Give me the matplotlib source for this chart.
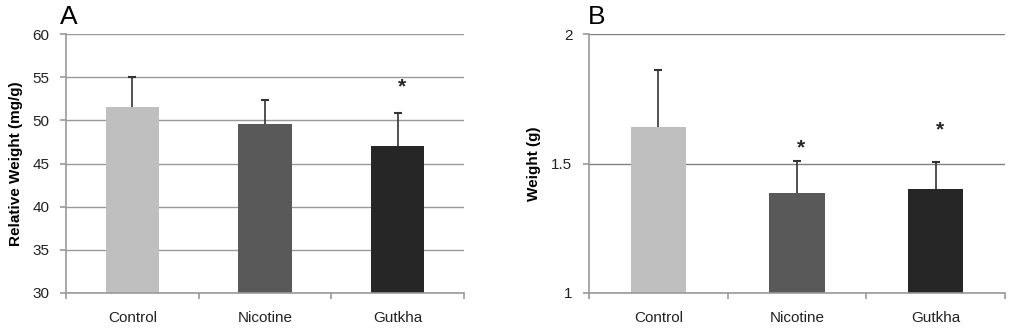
import matplotlib
matplotlib.use("Agg")
import matplotlib.pyplot as plt
import numpy as np

plt.rcParams['font.family'] = ['Liberation Sans', 'DejaVu Sans']

categories = ["Control", "Nicotine", "Gutkha"]
colors = ["#bfbfbf", "#595959", "#262626"]

a_values = [51.5, 49.6, 47.0]
a_errors = [3.5, 2.7, 3.8]
a_star = [None, None, 53.9]

b_values = [1.64, 1.385, 1.40]
b_errors = [0.22, 0.126, 0.106]
b_star = [None, 1.56, 1.63]

fig = plt.figure(figsize=(10.24, 3.35), dpi=100)
W, H = 1024, 335

def make_ax(left, right, top, bottom):
    return fig.add_axes([left / W, 1 - bottom / H, (right - left) / W, (bottom - top) / H])

axA = make_ax(66, 464, 34, 293)
axB = make_ax(589, 1005, 34, 293)

def draw(ax, vals, errs, stars, ylim, yticks, yticklabels, ylabel, label, label_x, grid_color):
    x = np.arange(len(categories))
    vals = np.array(vals)
    errs = np.array(errs)
    ax.set_xlim(-0.5, len(categories) - 0.5)
    ax.set_ylim(*ylim)
    ax.set_yticks(yticks)
    ax.set_yticklabels(yticklabels)
    ax.grid(axis='y', color=grid_color, linewidth=1.0)
    ax.set_axisbelow(True)
    ax.bar(x, vals - ylim[0], bottom=ylim[0], width=0.4, color=colors, zorder=2)
    ax.vlines(x, vals, vals + errs, color='#333333', linewidth=1.2, zorder=3)
    ax.plot(x, vals + errs, linestyle='none', marker='_', markersize=6,
            markeredgewidth=1.5, color='#333333', zorder=3)
    for xi, s in zip(x, stars):
        if s is not None:
            ax.text(xi + 0.03, s, "*", ha='center', va='center', fontsize=15,
                    fontweight='bold', color='#262626')
    for sp in ['top', 'right']:
        ax.spines[sp].set_visible(False)
    for sp in ['left', 'bottom']:
        ax.spines[sp].set_color('#999999')
        ax.spines[sp].set_linewidth(1.2)
    ax.set_xticks(x)
    ax.set_xticklabels(categories, fontsize=11, color='#222222')
    ax.tick_params(axis='x', length=0, pad=13)
    ax.set_xticks([-0.5, 0.5, 1.5, 2.5], minor=True)
    ax.tick_params(axis='x', which='minor', length=4, color='#999999', width=1.2)
    ax.tick_params(axis='y', length=4, color='#999999', width=1.2, labelsize=11,
                   labelcolor='#222222', pad=8)
    ax.set_ylabel(ylabel, fontsize=11, fontweight='bold', labelpad=7)
    ax.text(label_x, 1.02, label, transform=ax.transAxes, fontsize=19, ha='left', va='bottom')

draw(axA, a_values, a_errors, a_star, (30, 60), [30, 35, 40, 45, 50, 55, 60],
     ["30", "35", "40", "45", "50", "55", "60"], "Relative Weight (mg/g)", "A", -0.015, '#999999')
draw(axB, b_values, b_errors, b_star, (1, 2), [1, 1.5, 2],
     ["1", "1.5", "2"], "Weight (g)", "B", -0.002, '#808080')

fig.savefig("out.png", dpi=100)
